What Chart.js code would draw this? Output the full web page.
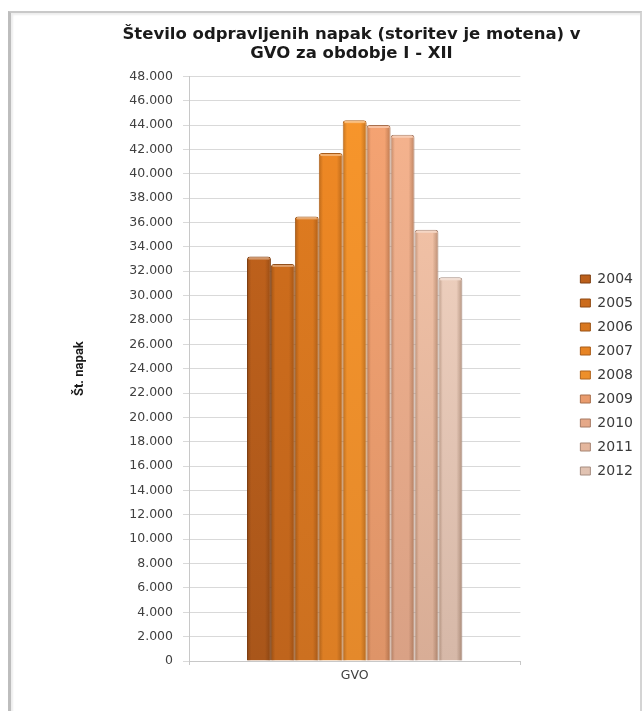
<!DOCTYPE html>
<html>
<head>
<meta charset="utf-8">
<title>Število odpravljenih napak</title>
<script src="https://cdn.jsdelivr.net/npm/chart.js@4.4.1/dist/chart.umd.min.js"></script>
<style>
  html, body { margin: 0; padding: 0; background: #fff; }
  #wrap { position: relative; width: 643px; height: 711px; overflow: hidden; }
  #frame {
    position: absolute; left: 8px; top: 11px; width: 629px; height: 720px;
    border-top: 2px solid #c9c9c9; border-left: 3px solid #bdbdbd; border-right: 2px solid #d4d4d4;
    box-shadow: inset 2px 2px 2px rgba(0,0,0,0.07);
  }
  #chart { position: absolute; left: 0; top: 0; }
</style>
</head>
<body>
<div id="wrap">
  <div id="frame"></div>
  <canvas id="chart" width="643" height="711"></canvas>
</div>
<script>
// categories / series
var category = ['GVO'];
var years = ['2004', '2005', '2006', '2007', '2008', '2009', '2010', '2011', '2012'];
var values = [33200, 32600, 36500, 41700, 44400, 44000, 43200, 35400, 31500];

// axis
var yMax = 48000;
var yStep = 2000;

// colours per year (top of bar -> bottom of bar, edge)
var topColors    = ['#c6651c', '#d3701c', '#e27d1f', '#f08924', '#f8962b', '#f6a473', '#f7b48e', '#f9c7aa', '#f7d8c6'];
var bottomColors = ['#a9561a', '#bf641c', '#cc7020', '#dc7e24', '#e4892b', '#de9468', '#d9a185', '#d8ad96', '#d6b8a8'];
var edgeColors   = ['#7e3f12', '#8e4913', '#9a5316', '#a85c19', '#b0641e', '#a8704e', '#a67b65', '#a78573', '#a68d80'];

function barFill(i) {
  return function(ctx) {
    var area = ctx.chart.chartArea;
    if (!area) return bottomColors[i];
    var g = ctx.chart.ctx.createLinearGradient(0, area.top, 0, area.bottom);
    g.addColorStop(0, topColors[i]);
    g.addColorStop(1, bottomColors[i]);
    return g;
  };
}

// darker left/right edges so each bar looks a bit rounded
var barShade = {
  id: 'barShade',
  afterDatasetsDraw: function(chart) {
    var c = chart.ctx;
    chart.data.datasets.forEach(function(ds, di) {
      chart.getDatasetMeta(di).data.forEach(function(bar) {
        var w = bar.width, left = bar.x - w / 2, top = bar.y, h = bar.base - bar.y;
        var g = c.createLinearGradient(left, 0, left + w, 0);
        g.addColorStop(0, 'rgba(60,25,0,0.28)');
        g.addColorStop(0.18, 'rgba(60,25,0,0.0)');
        g.addColorStop(0.75, 'rgba(60,25,0,0.0)');
        g.addColorStop(1, 'rgba(60,25,0,0.30)');
        c.save();
        c.fillStyle = g;
        c.fillRect(left + 1, top + 3, w - 2, h - 3);
        // light cap on top
        c.fillStyle = 'rgba(255,255,255,0.35)';
        c.fillRect(left + 2, top + 1, w - 4, 2);
        c.restore();
      });
    });
  }
};

var datasets = [];
for (var i = 0; i < years.length; i++) {
  datasets.push({
    label: years[i],
    data: [values[i]],
    backgroundColor: barFill(i),
    borderColor: edgeColors[i],
    borderWidth: 1,
    borderSkipped: 'bottom',
    borderRadius: { topLeft: 3, topRight: 3 },
    categoryPercentage: 0.65,
    barPercentage: 1
  });
}

function fmtThousands(v) {
  if (v === 0) return '0';
  return (v / 1000) + '.000';
}

var tickFont = { family: 'DejaVu Sans', size: 12.5 };

new Chart(document.getElementById('chart'), {
  type: 'bar',
  data: { labels: category, datasets: datasets },
  plugins: [barShade],
  options: {
    responsive: false,
    animation: false,
    layout: { padding: { left: 60, right: 0, top: 0, bottom: 25 } },
    plugins: {
      title: {
        display: true,
        text: ['Število odpravljenih napak (storitev je motena) v', 'GVO za obdobje I - XII'],
        color: '#1a1a1a',
        font: { family: 'DejaVu Sans', size: 16.5, weight: 'bold', lineHeight: 1.1 },
        padding: { top: 26, bottom: 14 }
      },
      legend: {
        position: 'right',
        title: { display: true, text: '', font: { size: 10, lineHeight: 1 }, padding: { top: 0, bottom: 54 } },
        labels: {
          color: '#3a3a3a',
          font: { family: 'DejaVu Sans', size: 14 },
          boxWidth: 10,
          boxHeight: 8,
          padding: 10
        }
      },
      tooltip: { enabled: false }
    },
    scales: {
      x: {
        grid: { display: true, drawOnChartArea: false, tickLength: 4, color: '#c8c8c8' },
        border: { color: '#c8c8c8' },
        ticks: { color: '#404040', font: tickFont, padding: 3 }
      },
      y: {
        min: 0,
        max: yMax,
        afterFit: function(s) { s.width = 129; },
        ticks: { stepSize: yStep, color: '#404040', font: tickFont, padding: 10, callback: fmtThousands },
        grid: { color: '#d9d9d9', tickLength: 6 },
        border: { color: '#c8c8c8' },
        title: {
          display: true,
          text: 'Št. napak',
          color: '#1a1a1a',
          font: { family: 'Liberation Sans Narrow, Roboto', size: 13, weight: 'bold' },
          padding: { top: 12, bottom: 38 }
        }
      },
      gap: {
        position: 'right',
        display: true,
        afterFit: function(s) { s.width = 50; },
        grid: { display: false },
        border: { display: false },
        ticks: { display: false }
      }
    }
  }
});
</script>
</body>
</html>
